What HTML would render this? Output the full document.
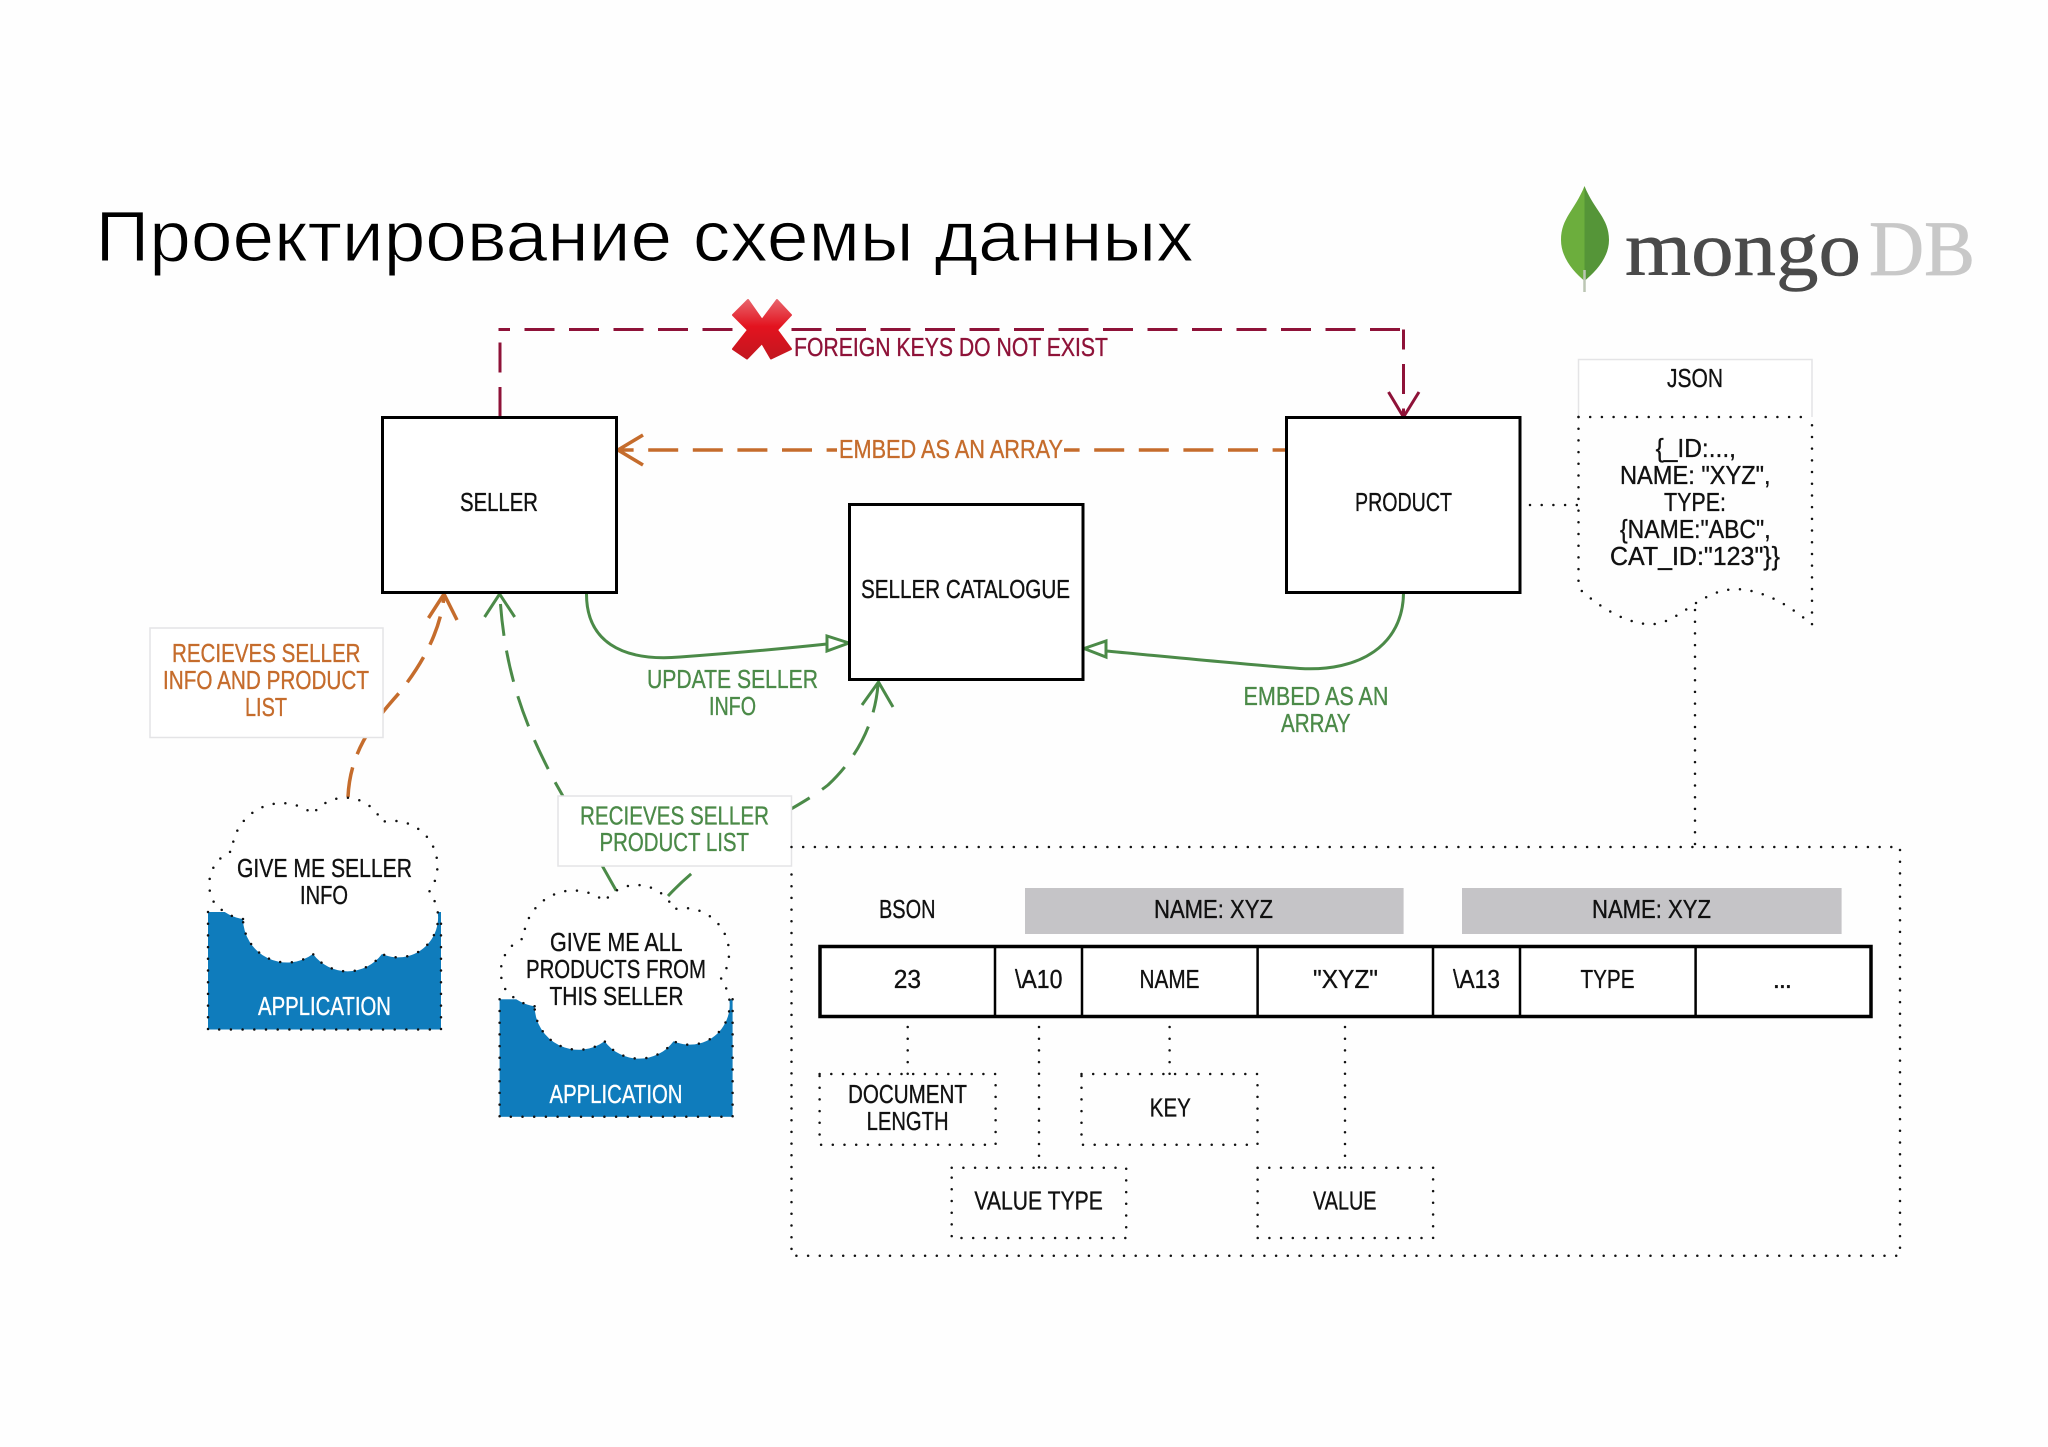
<!DOCTYPE html>
<html><head><meta charset="utf-8"><style>
html,body{margin:0;padding:0;background:#fefefe}
svg{display:block}
text{font-family:"Liberation Sans Narrow","Liberation Sans",sans-serif;font-size:26px;fill:#111;stroke:#111;stroke-width:.35;transform:translateY(-1px)}
.d{fill:none;stroke:#111;stroke-width:2.5;stroke-linecap:round;stroke-dasharray:0 11.7}
.b{fill:#fff;stroke:#000;stroke-width:3}
.or{fill:none;stroke:#c56c2c;stroke-width:3.5}
.gr{fill:none;stroke:#4b8a48;stroke-width:3}
.rd{fill:none;stroke:#8e1238;stroke-width:3}
text.o{fill:#c56c2c;stroke:#c56c2c}text.g{fill:#4b8a48;stroke:#4b8a48}text.r{fill:#8e1238;stroke:#8e1238}text.w{fill:#fff;stroke:#fff}
.note{fill:#fff;stroke:#e4e4e6;stroke-width:1.5}
</style></head><body>
<svg width="2048" height="1447" viewBox="0 0 2048 1447" xmlns="http://www.w3.org/2000/svg">
<defs>
<linearGradient id="xg" x1="0" y1="0" x2="0" y2="1"><stop offset="0" stop-color="#e8626a"/><stop offset=".45" stop-color="#e3131f"/><stop offset="1" stop-color="#c3161f"/></linearGradient>
<g id="cloud"><path d="M243 919 Q228 917 215 904 A36 36 0 0 1 232 851 A50 50 0 0 1 313 814 A40 40 0 0 1 382 822 A45 45 0 0 1 429 892 A40 40 0 0 1 382 954 A43 43 0 0 1 313 954 A44 44 0 0 1 243 919 Z" fill="#fff"/>
<path class="d" d="M243 919 Q228 917 215 904 A36 36 0 0 1 232 851 A50 50 0 0 1 313 814 A40 40 0 0 1 382 822 A45 45 0 0 1 429 892 A40 40 0 0 1 382 954 A43 43 0 0 1 313 954 A44 44 0 0 1 243 919 Z"/></g>
</defs>
<rect width="2048" height="1447" fill="#fefefe"/>

<text x="95.5" y="262" textLength="1098" lengthAdjust="spacingAndGlyphs" style="font-family:'Liberation Sans',sans-serif;font-size:71px;fill:#000;stroke:#fefefe;stroke-width:1">Проектирование схемы данных</text>

<!-- logo -->
<path d="M1584.5 186 C1575 210 1561 218 1561 240 C1561 258 1574 272 1584.5 281 Z" fill="#6cae3d"/>
<path d="M1584.5 186 C1594 210 1609 218 1609 240 C1609 258 1595 272 1584.5 281 Z" fill="#559538"/>
<path d="M1584.5 270 V292" stroke="#bcc6b4" stroke-width="2.5"/>
<text x="1625" y="276" textLength="236" lengthAdjust="spacingAndGlyphs" style="font-family:'Liberation Serif',serif;font-size:78px;fill:#4a4a4a;stroke:#4a4a4a;stroke-width:.6">mongo</text>
<text x="1869" y="276" textLength="106" lengthAdjust="spacingAndGlyphs" style="font-family:'Liberation Serif',serif;font-size:78px;fill:#c8c8c8;stroke:#c8c8c8;stroke-width:.8">DB</text>

<!-- red dashed -->
<path class="rd" d="M500 417 V329" stroke-dasharray="30 14.5"/>
<path class="rd" d="M498.5 329.5 H1403.5" stroke-dasharray="30 14.5" stroke-dashoffset="18.5"/>
<path class="rd" d="M1403.5 329.5 V417" stroke-dasharray="30 14.5" stroke-dashoffset="10"/>
<path class="rd" d="M1388.5 392 L1403.5 417 L1419 392"/>
<polygon points="748,300 762,320 777,300 791,315 777,330 791,349 771,358.5 762,343 747,358.5 733,349 748,330 733,315" fill="url(#xg)" stroke="url(#xg)" stroke-width="2" stroke-linejoin="round"/>
<text class="r" x="794" y="357" textLength="314" lengthAdjust="spacingAndGlyphs">FOREIGN KEYS DO NOT EXIST</text>

<!-- orange embed -->
<path class="or" d="M1286.6 450 H617" stroke-dasharray="30 14.6" stroke-dashoffset="16"/>
<rect x="837" y="435" width="227" height="30" fill="#fefefe"/>
<path class="or" d="M643 435 L618 450 L643 465"/>
<text class="o" x="839" y="459" textLength="224" lengthAdjust="spacingAndGlyphs">EMBED AS AN ARRAY</text>

<!-- green curves -->
<path class="gr" d="M586.5 593 C586 640 620 662 680 657 C720 654 790 648 827 644"/>
<polygon points="849,643 827,636 827,651" fill="#fff" stroke="#4b8a48" stroke-width="3"/>
<path class="gr" d="M1403.5 593 C1403 645 1360 672 1300 668.5 C1250 665 1160 656 1106 651"/>
<polygon points="1084,648.5 1106,641 1106,657" fill="#fff" stroke="#4b8a48" stroke-width="3"/>
<text class="g" x="647" y="689" textLength="171" lengthAdjust="spacingAndGlyphs">UPDATE SELLER</text>
<text class="g" x="709" y="716" textLength="47" lengthAdjust="spacingAndGlyphs">INFO</text>
<text class="g" x="1243.5" y="706" textLength="145" lengthAdjust="spacingAndGlyphs">EMBED AS AN</text>
<text class="g" x="1281" y="733" textLength="69.5" lengthAdjust="spacingAndGlyphs">ARRAY</text>

<!-- dashed to boxes -->
<path class="or" d="M348 797 C350 750 375 720 400 692 C425 660 440 630 444 597" stroke-dasharray="30 14"/>
<path class="or" d="M428.5 618 L444 594 L457 620"/>
<path class="gr" d="M617 892 L555 782 C530 735 505 680 500 597" stroke-dasharray="32 15"/>
<path class="gr" d="M484.6 617 L499.6 594 L514.7 617"/>
<path class="gr" d="M668 896 C720 840 790 815 828 785 C860 755 875 720 878 685" stroke-dasharray="32 15"/>
<path class="gr" d="M862 705 L878.5 682 L893 707"/>

<!-- main boxes -->
<rect class="b" x="382.5" y="417.5" width="234" height="175"/>
<rect class="b" x="849.5" y="504.5" width="233.5" height="175"/>
<rect class="b" x="1286.5" y="417.5" width="233.5" height="175"/>
<text x="460" y="512" textLength="78" lengthAdjust="spacingAndGlyphs">SELLER</text>
<text x="861" y="599" textLength="209" lengthAdjust="spacingAndGlyphs">SELLER CATALOGUE</text>
<text x="1355" y="512" textLength="97" lengthAdjust="spacingAndGlyphs">PRODUCT</text>

<!-- note boxes -->
<rect class="note" x="150" y="628" width="233" height="109.5"/>
<text class="o" x="172" y="663" textLength="188.5" lengthAdjust="spacingAndGlyphs">RECIEVES SELLER</text>
<text class="o" x="163" y="690" textLength="206" lengthAdjust="spacingAndGlyphs">INFO AND PRODUCT</text>
<text class="o" x="245" y="717" textLength="42" lengthAdjust="spacingAndGlyphs">LIST</text>
<rect class="note" x="558" y="796" width="233.5" height="70"/>
<text class="g" x="580" y="825.7" textLength="189" lengthAdjust="spacingAndGlyphs">RECIEVES SELLER</text>
<text class="g" x="599.5" y="852" textLength="149.5" lengthAdjust="spacingAndGlyphs">PRODUCT LIST</text>

<!-- app 1 -->
<rect x="208" y="912" width="233" height="117.5" fill="#0f7cbc"/>
<path class="d" d="M208 912 V1029.5 H441 V912"/>
<use href="#cloud"/>
<text x="237" y="878" textLength="175" lengthAdjust="spacingAndGlyphs">GIVE ME SELLER</text>
<text x="300" y="905" textLength="48" lengthAdjust="spacingAndGlyphs">INFO</text>
<text class="w" x="258" y="1016" textLength="133" lengthAdjust="spacingAndGlyphs">APPLICATION</text>

<!-- app 2 -->
<g transform="translate(291.6 87.3)">
<rect x="208" y="912" width="233" height="117.5" fill="#0f7cbc"/>
<path class="d" d="M208 912 V1029.5 H441 V912"/>
<use href="#cloud"/>
</g>
<text x="550" y="952" textLength="132.6" lengthAdjust="spacingAndGlyphs">GIVE ME ALL</text>
<text x="526" y="979" textLength="180" lengthAdjust="spacingAndGlyphs">PRODUCTS FROM</text>
<text x="549.5" y="1006" textLength="134" lengthAdjust="spacingAndGlyphs">THIS SELLER</text>
<text class="w" x="549.5" y="1104" textLength="133" lengthAdjust="spacingAndGlyphs">APPLICATION</text>

<!-- JSON -->
<path class="d" d="M1530 505 H1578"/>
<path d="M1578.5 417 V359.5 H1812 V417" fill="#fff" stroke="#e4e4e6" stroke-width="1.5"/>
<path class="d" d="M1578.5 417 H1812"/>
<path class="d" d="M1578.5 417 V588 C1600 608 1630 626 1654 624 C1680 622 1700 590 1736 589 C1765 590 1790 606 1812 624.5 V417"/>
<path class="d" d="M1695 610 V847"/>
<text x="1667" y="388" textLength="56" lengthAdjust="spacingAndGlyphs">JSON</text>
<text x="1655.6" y="458" textLength="80.4" lengthAdjust="spacingAndGlyphs">{_ID:...,</text>
<text x="1620" y="485" textLength="150.6" lengthAdjust="spacingAndGlyphs">NAME: "XYZ",</text>
<text x="1664" y="512" textLength="62" lengthAdjust="spacingAndGlyphs">TYPE:</text>
<text x="1620" y="539" textLength="150.6" lengthAdjust="spacingAndGlyphs">{NAME:"ABC",</text>
<text x="1610" y="566" textLength="170" lengthAdjust="spacingAndGlyphs">CAT_ID:"123"}}</text>

<!-- BSON -->
<path class="d" d="M791.5 847 H1900 V1255.7 H791.5 V866"/>
<rect x="1025" y="888" width="378.6" height="46" fill="#c5c4c7"/>
<rect x="1462" y="888" width="379.6" height="46" fill="#c5c4c7"/>
<text x="879" y="919" textLength="56.5" lengthAdjust="spacingAndGlyphs">BSON</text>
<text x="1154" y="919" textLength="119" lengthAdjust="spacingAndGlyphs">NAME: XYZ</text>
<text x="1592" y="919" textLength="119" lengthAdjust="spacingAndGlyphs">NAME: XYZ</text>
<rect x="820" y="946.5" width="1051" height="70" fill="#fff" stroke="#000" stroke-width="3.5"/>
<path d="M995 947 V1016 M1082 947 V1016 M1257.6 947 V1016 M1433 947 V1016 M1520 947 V1016 M1695.6 947 V1016" stroke="#000" stroke-width="2.5"/>
<text x="893.7" y="989" textLength="27.3" lengthAdjust="spacingAndGlyphs">23</text>
<text x="1015" y="989" textLength="47.5" lengthAdjust="spacingAndGlyphs">\A10</text>
<text x="1139.5" y="989" textLength="60" lengthAdjust="spacingAndGlyphs">NAME</text>
<text x="1313" y="989" textLength="65" lengthAdjust="spacingAndGlyphs">"XYZ"</text>
<text x="1453" y="989" textLength="47" lengthAdjust="spacingAndGlyphs">\A13</text>
<text x="1580.5" y="989" textLength="54" lengthAdjust="spacingAndGlyphs">TYPE</text>
<text x="1772.7" y="989" textLength="19.3">...</text>

<path class="d" d="M907.7 1027 V1074"/>
<path class="d" d="M1039 1027 V1167.7"/>
<path class="d" d="M1169.6 1027 V1074"/>
<path class="d" d="M1345 1027 V1167.7"/>
<rect class="d" x="819.6" y="1074" width="176" height="70.7"/>
<rect class="d" x="1081.5" y="1074" width="176" height="70.7"/>
<rect class="d" x="951.7" y="1167.7" width="174.5" height="70.3"/>
<rect class="d" x="1257.6" y="1167.7" width="175.5" height="70.3"/>
<text x="848" y="1104" textLength="119" lengthAdjust="spacingAndGlyphs">DOCUMENT</text>
<text x="866.6" y="1131" textLength="82" lengthAdjust="spacingAndGlyphs">LENGTH</text>
<text x="1149.8" y="1117.7" textLength="41" lengthAdjust="spacingAndGlyphs">KEY</text>
<text x="974.4" y="1210.7" textLength="128.4" lengthAdjust="spacingAndGlyphs">VALUE TYPE</text>
<text x="1313" y="1210.7" textLength="63.5" lengthAdjust="spacingAndGlyphs">VALUE</text>
</svg>
</body></html>
